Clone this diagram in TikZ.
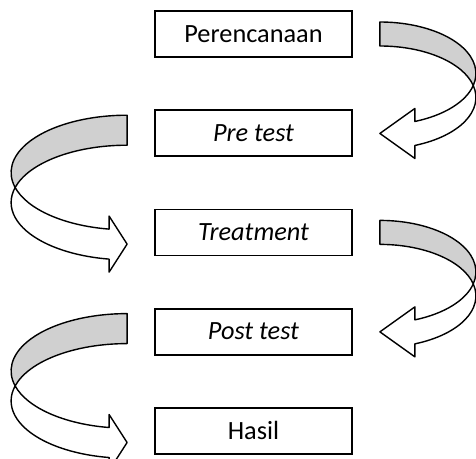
\documentclass[tikz,border=0pt]{standalone}
\usepackage{fontspec}
\setmainfont{Carlito}
\usetikzlibrary{positioning,calc}
\definecolor{bandGray}{RGB}{208,208,208}
\tikzset{
  stepbox/.style={
    draw=black,
    line width=1.8pt,
    minimum width=197pt,
    minimum height=46pt,
    inner sep=0pt,
    fill=white,
    font=\fontsize{26.3}{30}\selectfont
  },
  bandline/.style={
    draw=black,
    line width=1.4pt,
    line join=round
  },
  % #1 x radius, #2 y radius, #3 band width, #4 head length
  pics/bendarrow/.style n args={4}{code={
    \pgfmathsetmacro\twistang{asin(#3/(2*#2))}
    \pgfmathsetmacro\headang{acos(#4/#1)}
    \pgfmathsetmacro\yin{-#2-#2*sin(\headang)}
    \pgfmathsetmacro\yout{\yin-#3}
    \pgfmathsetmacro\ytip{(\yin+\yout)/2}
    \filldraw[bandline, fill=bandGray] (0,0)
      arc[start angle=90, end angle=-\twistang, x radius=#1, y radius=#2]
      arc[start angle=\twistang, end angle=90, x radius=#1, y radius=#2]
      -- cycle;
    \filldraw[bandline, fill=white] (#4,\yin)
      arc[start angle=-\headang, end angle=-\twistang, x radius=#1, y radius=#2]
      arc[start angle=\twistang, end angle=-\headang, x radius=#1, y radius=#2]
      -- (#4,\yout-13) -- (0,\ytip) -- (#4,\yin+13) -- cycle;
  }}
}

\begin{document}
\begin{tikzpicture}[x=1pt, y=1pt, node distance=51.4pt]
  \useasboundingbox (0,0) rectangle (476,-458);

  \node[stepbox] (plan) at (253.5,-34) {Perencanaan};
  \node[stepbox, below=of plan] (pretest) {\textit{Pre test}};
  \node[stepbox, below=of pretest] (treat) {\textit{Treatment}};
  \node[stepbox, below=of treat] (posttest) {\textit{Post test}};
  \node[stepbox, below=of posttest] (hasil) {Hasil};

  % right side arrows
  \pic at ($(plan.east)+(27,12)$) {bendarrow={96}{51.5}{24}{35}};
  \pic at ($(treat.east)+(27,12)$) {bendarrow={96}{51.5}{24}{35}};

  % left side arrows
  \pic[xscale=-1] at ($(pretest.west)+(-27,18)$) {bendarrow={116}{57.3}{30}{18}};
  \pic[xscale=-1] at ($(posttest.west)+(-27,18)$) {bendarrow={116}{57.3}{30}{18}};
\end{tikzpicture}
\end{document}
